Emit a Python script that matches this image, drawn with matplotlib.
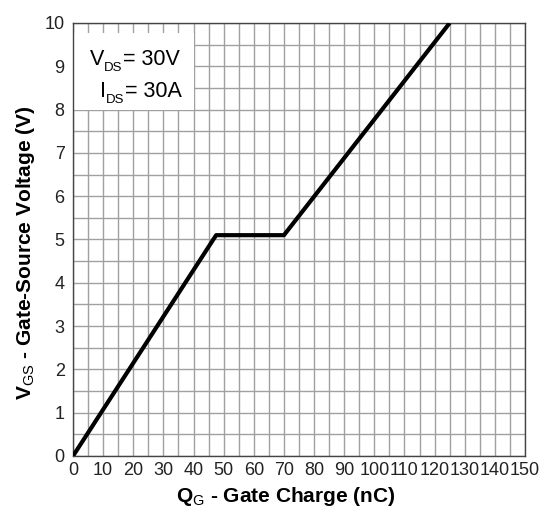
import numpy as np
from matplotlib import pyplot as plt
from matplotlib.patches import Rectangle

plt.rcParams['font.family'] = ['Liberation Sans', 'DejaVu Sans']
plt.rcParams['mathtext.fontset'] = 'custom'
plt.rcParams['mathtext.rm'] = 'Liberation Sans'
plt.rcParams['mathtext.bf'] = 'Liberation Sans:bold'

# gate charge curve (nC, V)
qg = [0, 47.5, 70, 125]
vgs = [0, 5.1, 5.1, 10]

x_ticks = np.arange(0, 151, 10)
y_ticks = np.arange(0, 11, 1)

fig = plt.figure(figsize=(5.5, 5.15), dpi=100)
ax = fig.add_axes([73 / 550, 1 - 456 / 515, (525 - 73) / 550, (456 - 23) / 515])

ax.plot(qg, vgs, color="black", linewidth=3, solid_capstyle="butt", zorder=3)

ax.set_xlim(0, 150)
ax.set_ylim(0, 10)
ax.set_xticks(x_ticks)
ax.set_yticks(y_ticks)
ax.set_xticks(np.arange(0, 151, 5), minor=True)
ax.set_yticks(np.arange(0, 10.01, 0.5), minor=True)
ax.grid(True, which="both", color="#a0a0a0", linewidth=1)
ax.tick_params(which="both", length=0, labelsize=13, colors="#222222")
ax.tick_params(axis="x", pad=4)
ax.tick_params(axis="y", pad=6)
for s in ax.spines.values():
    s.set_color("#444444")
    s.set_linewidth(1)

ax.set_xlabel(r"$\mathbf{Q}_{\mathrm{G}}$ - Gate Charge (nC)", fontsize=15, fontweight="bold", va="top")
ax.set_ylabel(r"$\mathbf{V}_{\mathrm{GS}}$ - Gate-Source Voltage (V)", fontsize=15, fontweight="bold")
ax.xaxis.set_label_coords(0.47, -0.068)
ax.yaxis.set_label_coords(-0.08, 0.47)

# white box behind the test conditions
ax.add_patch(Rectangle((0, 8.0), 40, 1.77, facecolor="white", edgecolor="none", zorder=2))

fig.canvas.draw()
renderer = fig.canvas.get_renderer()


def sub_text(x, y, main, sub, rest, size=15.5, sub_size=9.5, drop=4.5):
    t = ax.text(x, y, main, fontsize=size, va="baseline", ha="left", zorder=4)
    w = t.get_window_extent(renderer).width * 72 / fig.dpi
    s = ax.annotate(sub, (x, y), xytext=(w, -drop), textcoords="offset points",
                    fontsize=sub_size, va="baseline", ha="left", zorder=4)
    w2 = s.get_window_extent(renderer).width * 72 / fig.dpi
    ax.annotate(rest, (x, y), xytext=(w + w2, 0), textcoords="offset points",
                fontsize=size, va="baseline", ha="left", zorder=4)


sub_text(5.6, 9.03, "V", "DS", "= 30V")
sub_text(9.0, 8.29, "I", "DS", "= 30A")

fig.savefig("out.png", dpi=100)
